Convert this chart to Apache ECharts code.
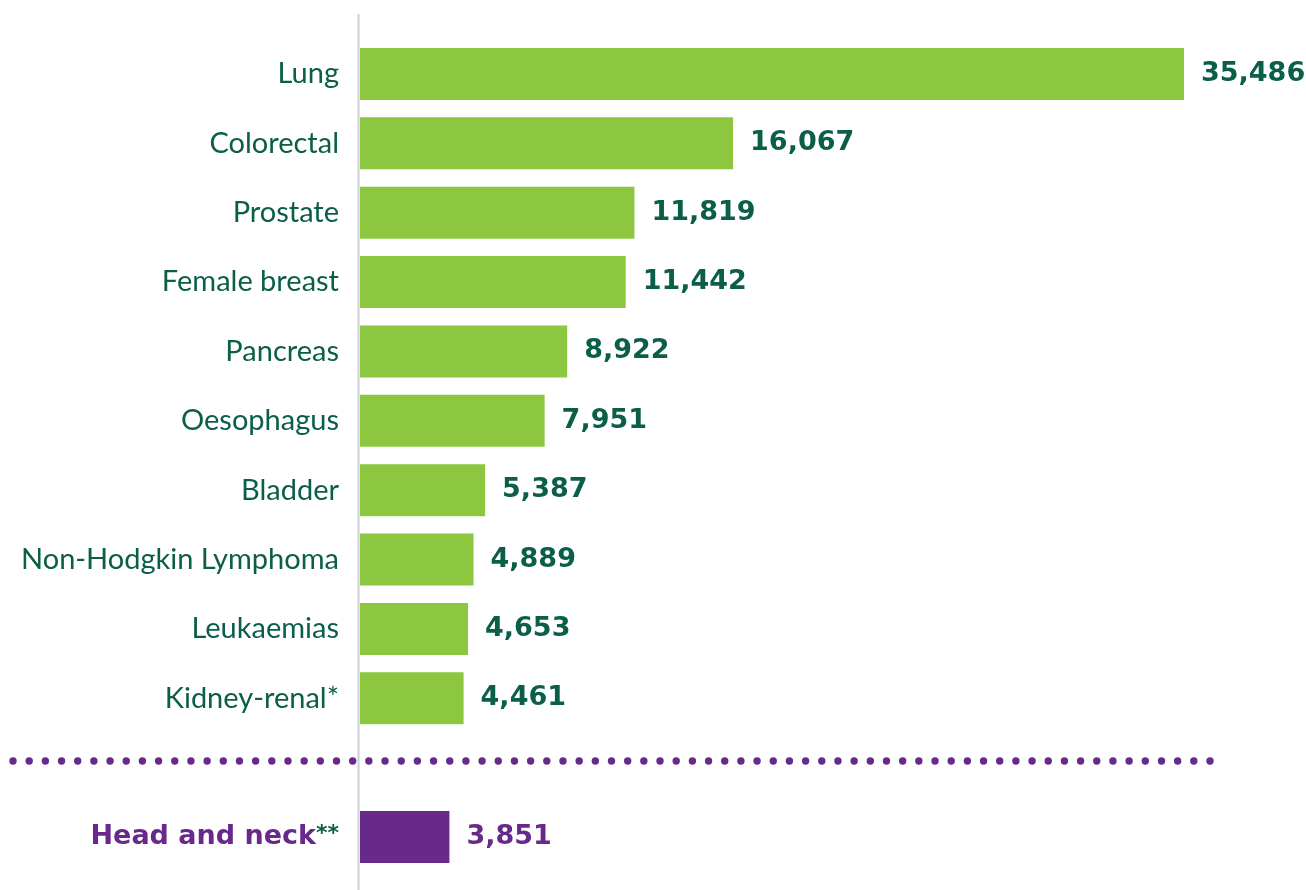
<!DOCTYPE html>
<html>
<head>
<meta charset="utf-8">
<script src="https://cdn.jsdelivr.net/npm/echarts@6/dist/echarts.min.js"></script>
<style>
html,body{margin:0;padding:0;background:#fff;}
#chart{width:1306px;height:890px;}
</style>
</head>
<body>
<div id="chart"></div>
<script>
const categories = ['Lung','Colorectal','Prostate','Female breast','Pancreas','Oesophagus','Bladder','Non-Hodgkin Lymphoma','Leukaemias','Kidney-renal*','','Head and neck**'];
const values = [35486,16067,11819,11442,8922,7951,5387,4889,4653,4461,null,3851];
const highlightCategory = 'Head and neck**';

const GREEN = '#8DC63F';
const DARK = '#0B5E48';
const PURPLE = '#68298A';

const chart = echarts.init(document.getElementById('chart'), null, {renderer:'canvas'});

const data = values.map((v, i) => {
  const hl = categories[i] === highlightCategory;
  return {
    value: v,
    itemStyle: {color: hl ? PURPLE : GREEN},
    label: {color: hl ? PURPLE : DARK}
  };
});

// separator dots
const dots = [];
const dotStart = 13, dotEnd = 1210, nDots = 75;
for (let i = 0; i < nDots; i++) {
  dots.push({
    type: 'circle',
    shape: {cx: dotStart + i * (dotEnd - dotStart) / (nDots - 1), cy: 761, r: 3.7},
    style: {fill: PURPLE},
    silent: true
  });
}

chart.setOption({
  animation: false,
  grid: {left: 360, top: 39.3, bottom: 18.3, width: 928.8, containLabel: false},
  xAxis: {
    type: 'value', min: 0, max: 40000,
    show: false
  },
  yAxis: {
    type: 'category', inverse: true, data: categories,
    axisLine: {show: false}, axisTick: {show: false},
    axisLabel: {
      margin: 21,
      fontFamily: 'Lato', fontSize: 29, color: DARK,
      formatter: function (v) {
        if (v === highlightCategory) return '{h|Head and neck}{s|**}';
        return v;
      },
      rich: {
        h: {fontFamily: 'DejaVu Sans', fontWeight: 'bold', fontSize: 27, color: PURPLE},
        s: {fontFamily: 'DejaVu Sans', fontWeight: 'bold', fontSize: 22, color: DARK, verticalAlign: 'top', padding:[0,0,6,0]}
      }
    }
  },
  series: [{
    type: 'bar', data: data,
    barCategoryGap: '25%',
    label: {
      show: true, position: 'right', distance: 17,
      fontFamily: 'DejaVu Sans', fontWeight: 'bold', fontSize: 27,
      formatter: p => p.value == null ? '' : Number(p.value).toLocaleString('en-US')
    }
  }],
  graphic: [
    {type: 'line', shape: {x1: 358.5, y1: 14, x2: 358.5, y2: 890}, style: {stroke: '#C9CFD2', lineWidth: 2}, silent: true, z: 10}
  ].concat(dots)
});
</script>
</body>
</html>
